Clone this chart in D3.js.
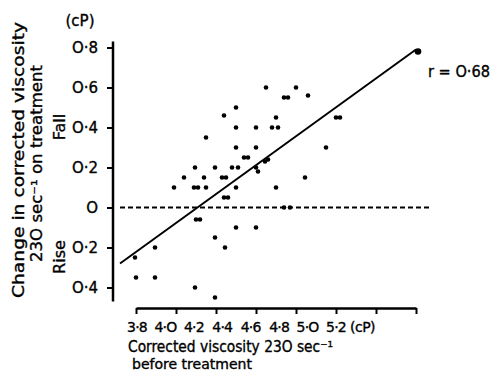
<!DOCTYPE html>
<html>
<head>
<meta charset="utf-8">
<script src="https://cdn.jsdelivr.net/npm/d3@7"></script>
<style>
  body { margin: 0; background: #fff; }
  svg { display: block; }
  text { font-family: "DejaVu Sans", sans-serif; fill: #000; stroke: #000; stroke-width: 0.35px; }
</style>
</head>
<body>
<script>
var width = 491,
	height = 371;

// viscosity before treatment (cP)
var before = [4.45, 4.60, 4.54, 4.56, 4.66, 4.30, 4.24, 4.50, 4.80, 4.82,
	4.30, 4.40, 4.48, 4.51, 4.15, 4.30, 4.40, 4.75, 4.34, 4.36,
	4.445, 4.46, 4.40, 4.41, 4.095, 4.195, 4.28, 4.31, 4.04, 4.14,
	4.23, 4.25, 4.645, 3.99, 4.09, 4.11, 4.15, 4.30, 4.50, 4.24,
	4.26, 4.54, 4.57, 4.10, 4.12, 4.30, 4.40, 4.195, 4.245, 3.895,
	3.795, 3.80, 3.895, 4.095, 4.195];
// fall in viscosity on treatment (cP), rise is negative
var change = [0.60, 0.60, 0.55, 0.55, 0.56, 0.50, 0.46, 0.45, 0.45, 0.45,
	0.40, 0.40, 0.40, 0.40, 0.35, 0.30, 0.30, 0.30, 0.25, 0.25,
	0.23, 0.24, 0.20, 0.18, 0.20, 0.20, 0.20, 0.20, 0.15, 0.15,
	0.15, 0.15, 0.15, 0.10, 0.10, 0.10, 0.10, 0.10, 0.10, 0.05,
	0.05, 0.0, 0.0, -0.06, -0.06, -0.10, -0.10, -0.15, -0.20, -0.20,
	-0.25, -0.35, -0.35, -0.40, -0.45];
// the big point at the end of the line
var endPoint = [5.21, 0.78];

var fitX = [3.72, 5.2],
	fitY = [-0.28, 0.79];
var zeroLine = [3.72, 5.27];

var xTicks = [3.8, 4.0, 4.2, 4.4, 4.6, 4.8, 5.0, 5.2],
	xTickLabels = ["3·8", "4·O", "4·2", "4·4", "4·6", "4·8", "5·O", "5·2"];
var yTicks = [-0.4, -0.2, 0, 0.2, 0.4, 0.6, 0.8],
	yTickLabels = ["O·4", "O·2", "O", "O·2", "O·4", "O·6", "O·8"];
var rText = "r = O·68";

var x = d3.scaleLinear().domain([3.8, 5.2]).range([136, 416]);
var y = d3.scaleLinear().domain([-0.4, 0.8]).range([287.5, 47.5]);
// the printed numbers under the x axis do not sit on the ticks
var xLab = d3.scaleLinear().domain([3.8, 5.2]).range([137, 336]);

var svg = d3.select("body").append("svg")
	.attr("width", width)
	.attr("height", height);

// x axis
var xAxis = svg.append("g")
	.attr("transform", "translate(0,308)")
	.call(d3.axisBottom(x).tickValues(xTicks).tickSize(6).tickSizeOuter(0).tickFormat(""));
xAxis.select(".domain").attr("stroke-width", 2.5);
xAxis.selectAll(".tick line").attr("stroke-width", 2);

svg.selectAll(".xlab")
	.data(xTicks)
	.enter().append("text")
	.attr("class", "xlab")
	.attr("x", function(d) { return xLab(d); })
	.attr("y", 332)
	.attr("text-anchor", "middle")
	.style("font-size", "14px")
	.style("letter-spacing", "-0.8px")
	.text(function(d, i) { return xTickLabels[i]; });

svg.append("text")
	.attr("x", 350).attr("y", 332)
	.style("font-size", "14px")
	.style("letter-spacing", "-0.5px")
	.text("(cP)");

// y axis
var yAxis = svg.append("g")
	.attr("transform", "translate(113,0)")
	.call(d3.axisLeft(y).tickValues(yTicks).tickSize(6).tickFormat(""));
yAxis.select(".domain").remove();
yAxis.selectAll(".tick line").attr("stroke-width", 2);
yAxis.append("line")
	.attr("y1", y(0.83)).attr("y2", y(-0.47))
	.attr("stroke", "#000")
	.attr("stroke-width", 2.5);

svg.selectAll(".ylab")
	.data(yTicks)
	.enter().append("text")
	.attr("class", "ylab")
	.attr("x", 98)
	.attr("y", function(d) { return y(d) + 5.5; })
	.attr("text-anchor", "end")
	.style("font-size", "15px")
	.text(function(d, i) { return yTickLabels[i]; });

svg.append("text")
	.attr("x", 80).attr("y", 26)
	.attr("text-anchor", "middle")
	.style("font-size", "15px")
	.text("(cP)");

// y title, three rotated lines
function rotated(cx, cy, size, len) {
	var t = svg.append("text")
		.attr("transform", "translate(" + cx + "," + cy + ")rotate(-90)")
		.attr("text-anchor", "middle")
		.style("font-size", size + "px");
	if (len) t.attr("textLength", len).attr("lengthAdjust", "spacingAndGlyphs");
	return t;
}
rotated(24, 160, 16, 276).text("Change in corrected viscosity");
rotated(42, 163.5, 16, 197).text("23O sec⁻¹ on treatment");
rotated(65, 127, 16).text("Fall");
rotated(65, 257, 16).text("Rise");

// x title
svg.append("text")
	.attr("x", 128).attr("y", 352)
	.style("font-size", "15px")
	.attr("textLength", 205).attr("lengthAdjust", "spacingAndGlyphs")
	.text("Corrected viscosity 23O sec⁻¹");
svg.append("text")
	.attr("x", 132).attr("y", 369)
	.style("font-size", "13.5px")
	.attr("textLength", 120).attr("lengthAdjust", "spacingAndGlyphs")
	.text("before treatment");

// zero line
svg.append("line")
	.attr("x1", x(zeroLine[0])).attr("x2", x(zeroLine[1]))
	.attr("y1", y(0)).attr("y2", y(0))
	.attr("stroke", "#000")
	.attr("stroke-width", 1.8)
	.attr("stroke-dasharray", "5,3");

// regression line
svg.append("line")
	.attr("x1", x(fitX[0])).attr("y1", y(fitY[0]))
	.attr("x2", x(fitX[1])).attr("y2", y(fitY[1]))
	.attr("stroke", "#000")
	.attr("stroke-width", 2);

// points
svg.selectAll(".dot")
	.data(before)
	.enter().append("circle")
	.attr("class", "dot")
	.attr("cx", function(d) { return x(d); })
	.attr("cy", function(d, i) { return y(change[i]); })
	.attr("r", 2.3)
	.attr("fill", "#000");

svg.append("circle")
	.attr("cx", x(endPoint[0])).attr("cy", y(endPoint[1]))
	.attr("r", 3.3)
	.attr("fill", "#000");

svg.append("text")
	.attr("x", 428).attr("y", 77)
	.style("font-size", "15px")
	.attr("textLength", 62).attr("lengthAdjust", "spacingAndGlyphs")
	.text(rText);
</script>
</body>
</html>
